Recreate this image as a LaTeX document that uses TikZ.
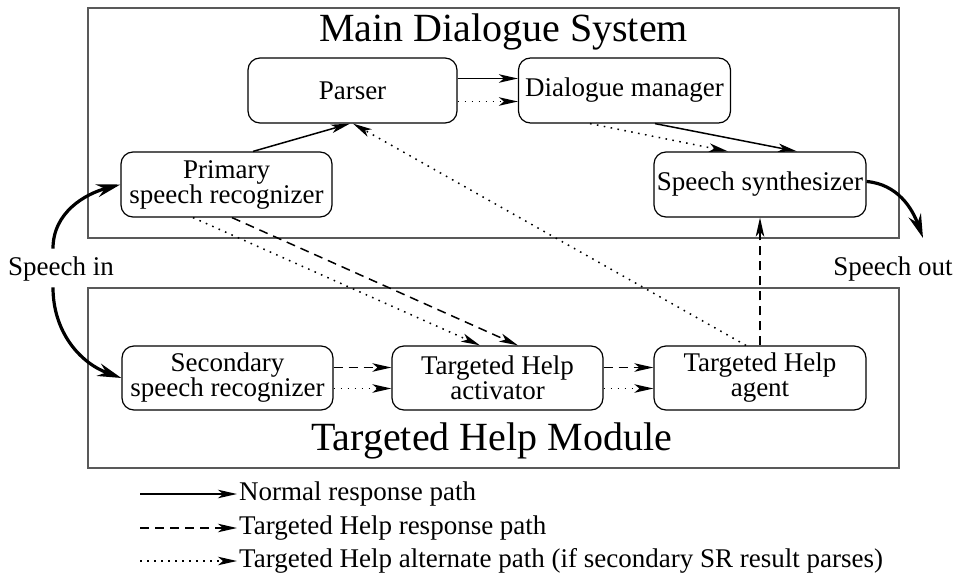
\documentclass[tikz,border=0pt]{standalone}
\usepackage{fontspec}
\setmainfont{Liberation Serif}
\usetikzlibrary{arrows.meta}
\begin{document}
\begin{tikzpicture}[x=1pt,y=-1pt,
  every node/.style={font=\fontsize{27}{25}\selectfont, inner sep=0pt},
  module/.style={draw=black!65, line width=1.4pt},
  stage/.style={draw, rounded corners=12pt, line width=1.2pt, align=center},
  flow/.style={line width=1.5pt, -{Stealth[length=19pt,width=8.5pt,inset=5pt]}},
  normal/.style={flow},
  helppath/.style={flow, dash pattern=on 9pt off 6pt},
  altpath/.style={flow, dash pattern=on 1.6pt off 5.4pt},
  speech/.style={line width=3.2pt, -{Stealth[length=24pt,width=13pt,inset=8pt]}},
  title/.style={font=\fontsize{40}{40}\selectfont},
  legendtext/.style={anchor=west}
]
\useasboundingbox (0,0) rectangle (970,581);

% the two module frames
\draw[module] (88,8) rectangle (899,238);
\draw[module] (88,288) rectangle (899,468);
\node[title] (mds) at (503.5,32) {Main Dialogue System};
\node[title] (thm) at (491.5,441) {Targeted Help Module};

% processing stages
\node[stage, minimum width=209pt, minimum height=65pt] (parser) at (352.5,90.5) {Parser};
\node[stage, minimum width=212pt, minimum height=65pt] (dm) at (624.5,90.5) {Dialogue manager};
\node[stage, minimum width=211pt, minimum height=65pt] (primary) at (226.5,184.5) {Primary\\speech recognizer};
\node[stage, minimum width=212pt, minimum height=65pt] (synth) at (760,184.5) {Speech synthesizer};
\node[stage, minimum width=211pt, minimum height=64pt] (secondary) at (227.5,378) {Secondary\\speech recognizer};
\node[stage, minimum width=211pt, minimum height=64pt] (activator) at (497.5,378) {Targeted Help\\activator};
\node[stage, minimum width=212pt, minimum height=64pt] (agent) at (760,378) {Targeted Help\\agent};

% speech in / out
\node (sin) at (61,269) {Speech in};
\node (sout) at (893,269) {Speech out};
\draw[speech] ([xshift=-8pt,yshift=8pt]sin.north) to[out=90, in=195] (primary.west);
\draw[speech] ([xshift=-8pt,yshift=-6pt]sin.south) to[out=-90, in=160] (secondary.west);
\coordinate (outtip) at (923,238);
\draw[speech] ([yshift=3pt]synth.east) to[out=-5, in=110] (outtip);

% normal response path
\draw[normal] ([xshift=26.5pt]primary.north) -- ([xshift=-2.5pt]parser.south);
\draw[normal] ([yshift=12pt]parser.east) -- ([yshift=12pt]dm.west);
\draw[normal] ([xshift=30.5pt]dm.south) -- ([xshift=37pt]synth.north);

% targeted help response path
\draw[helppath] ([xshift=5.5pt]primary.south) -- ([xshift=20.5pt]activator.north);
\draw[helppath] ([yshift=10.5pt]secondary.east) -- ([yshift=10.5pt]activator.west);
\draw[helppath] ([yshift=10.5pt]activator.east) -- ([yshift=10.5pt]agent.west);
\draw[helppath] (agent.north) -- (synth.south);

% targeted help alternate path
\draw[altpath] ([xshift=-33.5pt]primary.south) -- ([xshift=-17.5pt]activator.north);
\draw[altpath] ([yshift=-10.5pt]secondary.east) -- ([yshift=-10.5pt]activator.west);
\draw[altpath] ([yshift=-10.5pt]activator.east) -- ([yshift=-10.5pt]agent.west);
\draw[altpath] ([xshift=-14pt]agent.north) -- ([xshift=0.5pt]parser.south);
\draw[altpath] ([yshift=-11pt]parser.east) -- ([yshift=-11pt]dm.west);
\draw[altpath] ([xshift=-34.5pt]dm.south) -- ([xshift=-32pt]synth.north);

% legend
\coordinate (l1) at (140,494);
\coordinate (l2) at (140,528);
\coordinate (l3) at (140,561);
\node[legendtext] (t1) at (239,494) {Normal response path};
\node[legendtext] (t2) at (239,528) {Targeted Help response path};
\node[legendtext] (t3) at (239,561) {Targeted Help alternate path (if secondary SR result parses)};
\draw[normal] (l1) -- ([xshift=-2pt]t1.west);
\draw[helppath] (l2) -- ([xshift=-2pt]t2.west);
\draw[altpath] (l3) -- ([xshift=-2pt]t3.west);
\end{tikzpicture}
\end{document}
